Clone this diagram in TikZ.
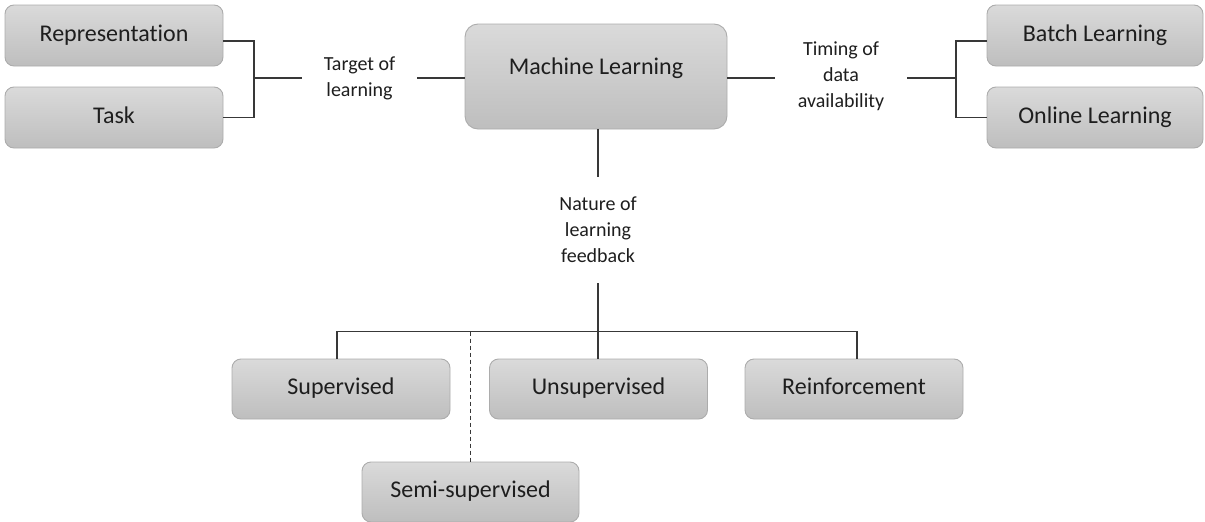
\documentclass[tikz,border=0pt]{standalone}
\usepackage{fontspec}
\setmainfont{Carlito}[Ligatures=NoCommon]
\usetikzlibrary{calc}
\definecolor{boxtop}{RGB}{218,218,218}
\definecolor{boxbot}{RGB}{190,190,190}
\definecolor{boxline}{RGB}{172,172,172}
\definecolor{wire}{RGB}{56,56,56}
\definecolor{ink}{RGB}{30,30,30}
\tikzset{
  mlbox/.style={draw=boxline, line width=0.9pt, rounded corners=9pt,
    top color=boxtop, bottom color=boxbot, text=ink,
    font=\fontsize{24}{28}\selectfont, inner sep=0pt,
    text height=16pt, text depth=5pt,
    minimum width=218pt, minimum height=61pt},
  edgelabel/.style={text=ink, align=center, inner sep=0pt,
    font=\fontsize{20}{26}\selectfont},
  wireline/.style={draw=wire, line width=1.2pt},
}
\begin{document}
\begin{tikzpicture}[x=1pt, y=-1pt]
\useasboundingbox (0,0) rectangle (1205,522);

% central concept
\node[mlbox, minimum width=262pt, minimum height=105pt, rounded corners=13pt,
      text depth=21pt] (ml) at (596,76.5) {Machine Learning};

% target of learning
\node[mlbox] (rep)  at (114,35.5)  {Representation};
\node[mlbox] (task) at (114,117.5) {Task};
\node[edgelabel, minimum width=115pt] (tgt) at (359.5,78) {Target of\\learning};
\coordinate (jl) at (254,78);

% timing of data availability
\node[mlbox, minimum width=216pt] (batch)  at (1095,35.5)  {Batch Learning};
\node[mlbox, minimum width=216pt] (online) at (1095,117.5) {Online Learning};
\node[edgelabel, minimum width=132pt] (tim) at (841,76) {Timing of\\data\\availability};
\coordinate (jr) at (956,78);

% nature of learning feedback
\node[edgelabel, minimum height=106pt] (nat) at (598,230) {Nature of\\learning\\feedback};
\node[mlbox, minimum height=60pt] (sup)   at (341,389)   {Supervised};
\node[mlbox, minimum height=60pt] (unsup) at (598.5,389) {Unsupervised};
\node[mlbox, minimum height=60pt] (rein)  at (854,389)   {Reinforcement};
\node[mlbox, minimum width=217pt, minimum height=60pt] (semi) at (470.5,492) {Semi-supervised};
\coordinate (bar) at (598,331.5);

% connectors
\draw[wireline] ([yshift=-5.5pt]rep.east) -| (jl) |- (task.east);
\draw[wireline] (jl) -- (tgt.west);
\draw[wireline] (tgt.east) -- (ml.west |- tgt.east);
\draw[wireline] (ml.east |- jr) -- (tim.west |- jr);
\draw[wireline] (tim.east |- jr) -- (jr);
\draw[wireline] ([yshift=-5.5pt]batch.west) -| (jr) |- (online.west);
\draw[wireline] (ml.south -| nat.north) -- (nat.north);
\draw[wireline] (nat.south) -- (unsup.north -| nat.south);
\draw[wireline] ([xshift=-4pt]sup.north) -- ([xshift=-4pt]sup.north |- bar)
  -- ([xshift=3pt]rein.north |- bar) -- ([xshift=3pt]rein.north);
\draw[wireline, dash pattern=on 4pt off 3pt]
  (semi.north |- bar) -- (semi.north);
\end{tikzpicture}
\end{document}
